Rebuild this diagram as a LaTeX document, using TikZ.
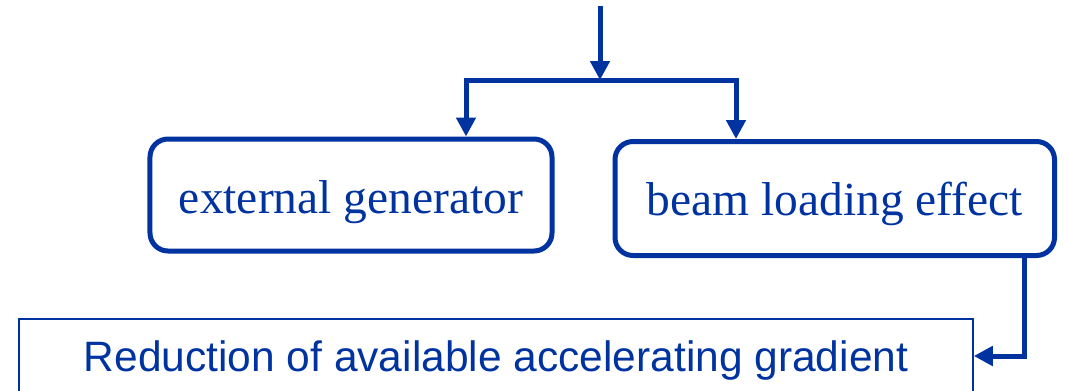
\documentclass[tikz,border=0pt]{standalone}
\usepackage{fontspec}
\setmainfont{Liberation Serif}
\setsansfont{Liberation Sans}
\usetikzlibrary{arrows.meta}
\definecolor{dblue}{RGB}{0,51,160}
\tikzset{
  rbox/.style={draw=dblue, line width=5bp, rounded corners=18bp, inner sep=0pt,
    text=dblue, font=\fontsize{47.5bp}{50bp}\selectfont, text depth=0bp},
  flat/.style={draw=dblue, line width=1.5bp, inner sep=0pt, text=dblue,
    font=\sffamily\fontsize{42.5bp}{45bp}\selectfont, text height=31bp, text depth=0bp},
  conn/.style={draw=dblue, line width=5bp, -{Triangle[length=19bp,width=19bp]}},
}
\begin{document}
\begin{tikzpicture}[x=1bp,y=-1bp]
\useasboundingbox (0,0) rectangle (1068,390);
\node[rbox, minimum width=402bp, minimum height=112bp, text height=36bp] (ext) at (351,195) {external generator};
\node[rbox, minimum width=439.5bp, minimum height=114bp, text height=33bp] (beam) at (834.75,198.5) {beam loading effect};
\node[flat, minimum width=954bp, minimum height=74bp] (red) at (496,356) {Reduction of available accelerating gradient};
\coordinate (top) at (600,6);
\coordinate (split) at (600,80);
\draw[conn] (top) -- (split);
\draw[conn, sharp corners] (split) -| ([xshift=115bp]ext.north);
\draw[conn, sharp corners] (split) -| ([xshift=-98.75bp]beam.north);
\draw[conn, sharp corners] ([xshift=189.25bp]beam.south) |- (red.east);
\end{tikzpicture}
\end{document}
